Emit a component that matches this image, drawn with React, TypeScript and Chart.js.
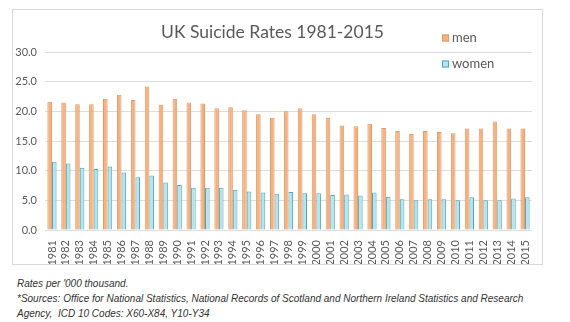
import React, { useEffect, useRef } from "react";
import { Chart, registerables } from "chart.js";

Chart.register(...registerables);

const years = [
  "1981", "1982", "1983", "1984", "1985", "1986", "1987", "1988", "1989", "1990",
  "1991", "1992", "1993", "1994", "1995", "1996", "1997", "1998", "1999", "2000",
  "2001", "2002", "2003", "2004", "2005", "2006", "2007", "2008", "2009", "2010",
  "2011", "2012", "2013", "2014", "2015",
];

const men = [
  21.6, 21.5, 21.2, 21.2, 22.1, 22.8, 21.9, 24.2, 21.1, 22.1,
  21.5, 21.3, 20.5, 20.7, 20.2, 19.5, 18.9, 20.0, 20.5, 19.5,
  18.9, 17.6, 17.5, 17.9, 17.2, 16.7, 16.2, 16.7, 16.5, 16.3,
  17.1, 17.1, 18.3, 17.1, 17.1,
];

const women = [
  11.5, 11.2, 10.5, 10.3, 10.7, 9.7, 8.9, 9.2, 8.0, 7.6,
  7.1, 7.1, 7.1, 6.8, 6.5, 6.3, 6.1, 6.4, 6.2, 6.2,
  5.9, 6.0, 5.8, 6.3, 5.6, 5.2, 5.0, 5.2, 5.2, 5.0,
  5.5, 5.0, 5.0, 5.3, 5.5,
];

const seriesNames = ["men", "women"];
const chartTitle = "UK Suicide Rates 1981-2015";
const yMin = 0;
const yMax = 30;
const yStep = 5;

const FONT = "Lato, 'Open Sans', sans-serif";
const TEXT = "#595959";

const legendPlugin = {
  id: "cornerLegend",
  afterDraw(chart: any) {
    const { ctx, chartArea } = chart;
    const x0 = chartArea.right - 90;
    const rows = [chartArea.top - 14, chartArea.top + 12];
    ctx.save();
    ctx.font = `13px ${FONT}`;
    ctx.textBaseline = "middle";
    ctx.textAlign = "left";
    chart.data.datasets.forEach((ds: any, i: number) => {
      const y = rows[i];
      ctx.fillStyle = ds.backgroundColor;
      ctx.fillRect(x0, y - 3.5, 7, 7);
      ctx.strokeStyle = ds.borderColor;
      ctx.lineWidth = 1;
      ctx.strokeRect(x0 + 0.5, y - 3, 6, 6);
      ctx.fillStyle = TEXT;
      ctx.fillText(ds.label, x0 + 10, y);
    });
    ctx.restore();
  },
};

export default function App() {
  const ref = useRef<HTMLCanvasElement | null>(null);

  useEffect(() => {
    if (!ref.current) return;
    const chart = new Chart(ref.current, {
      type: "bar",
      data: {
        labels: years,
        datasets: [
          {
            label: seriesNames[0],
            data: men,
            backgroundColor: "#F4B183",
            borderColor: "#E39A60",
            borderWidth: 1,
            categoryPercentage: 0.66,
            barPercentage: 1.0,
          },
          {
            label: seriesNames[1],
            data: women,
            backgroundColor: "#B7E3EC",
            borderColor: "#4BA7BD",
            borderWidth: 1,
            categoryPercentage: 0.66,
            barPercentage: 1.0,
          },
        ],
      },
      options: {
        responsive: false,
        animation: false,
        layout: { padding: { left: 0, right: 10, top: 0, bottom: 0 } },
        plugins: {
          legend: { display: false },
          tooltip: { enabled: false },
          title: {
            display: true,
            text: chartTitle,
            color: TEXT,
            font: { family: FONT, size: 17.5, weight: "normal" },
            padding: { top: 12, bottom: 9 },
          },
        },
        scales: {
          x: {
            grid: { display: false },
            border: { display: false },
            ticks: {
              autoSkip: false,
              minRotation: 90,
              maxRotation: 90,
              color: TEXT,
              font: { family: FONT, size: 11 },
              padding: 2,
            },
            afterFit: (s: any) => {
              s.height = 34;
            },
          },
          y: {
            min: yMin,
            max: yMax,
            grid: { color: "#DDDDDD", drawTicks: false },
            border: { display: false },
            ticks: {
              stepSize: yStep,
              color: TEXT,
              font: { family: FONT, size: 11 },
              padding: 8,
              callback: (v: any) => Number(v).toFixed(1),
            },
            afterFit: (s: any) => {
              s.width = 32;
            },
          },
        },
      },
      plugins: [legendPlugin],
    });
    return () => chart.destroy();
  }, []);

  return (
    <div style={{ paddingTop: 1, paddingLeft: 4 }}>
      <div
        style={{
          width: 529,
          height: 254,
          border: "1px solid #D9D9D9",
          background: "#fff",
        }}
      >
        <canvas ref={ref} width={529} height={254} style={{ display: "block" }} />
      </div>
      <div
        style={{
          marginTop: 11,
          marginLeft: 5,
          fontFamily: "'Liberation Sans', Arial, sans-serif",
          fontStyle: "italic",
          fontSize: 10,
          lineHeight: "15px",
          color: "#333",
          whiteSpace: "nowrap",
        }}
      >
        Rates per '000 thousand.
        <br />
        *Sources: Office for National Statistics, National Records of Scotland and Northern Ireland Statistics and Research
        <br />
        Agency,&nbsp; ICD 10 Codes: X60-X84, Y10-Y34
      </div>
    </div>
  );
}
